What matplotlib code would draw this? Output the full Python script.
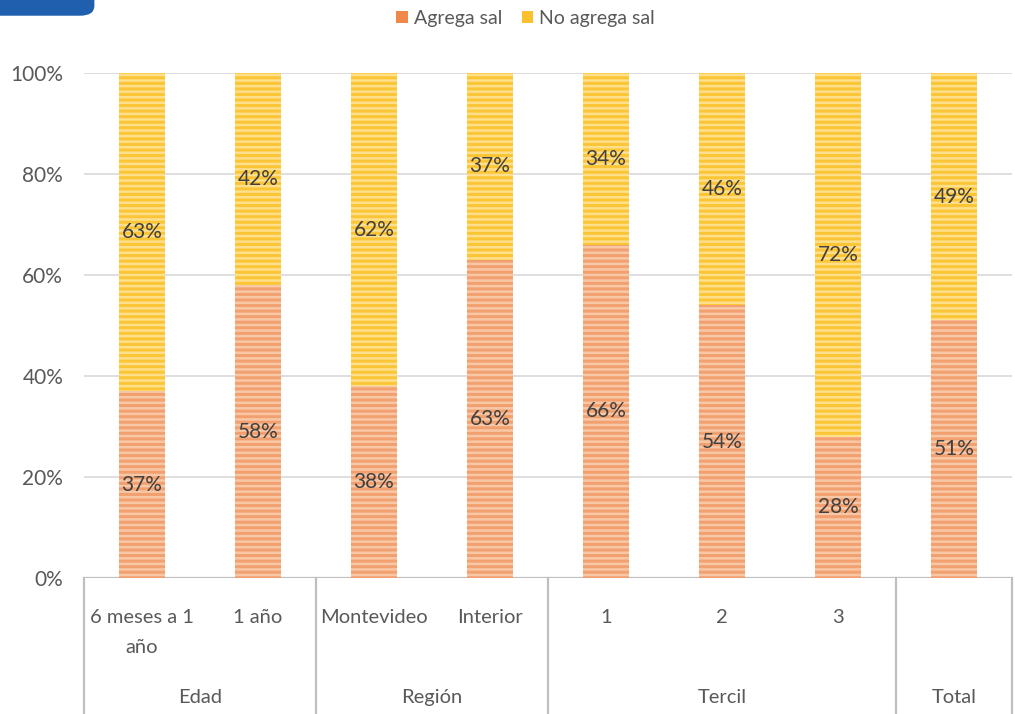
import matplotlib
matplotlib.use("Agg")
import matplotlib.pyplot as plt
from matplotlib.patches import FancyBboxPatch, Patch

# --- data ---------------------------------------------------------------------
CATEGORIES = ["6 meses a 1\naño", "1 año", "Montevideo", "Interior", "1", "2", "3", ""]
GROUPS = ["Edad", "Región", "Tercil", "Total"]
GROUP_SIZES = [2, 2, 3, 1]
AGREGA = [37, 58, 38, 63, 66, 54, 28, 51]
NO_AGREGA = [63, 42, 62, 37, 34, 46, 72, 49]
YTICKS = [0, 20, 40, 60, 80, 100]

ORANGE, ORANGE_HATCH = "#F2A070", "#F8C8A6"
YELLOW, YELLOW_HATCH = "#FBC535", "#FEDF8C"
TXT = "#595959"

plt.rcParams["font.family"] = ["Lato", "DejaVu Sans"]
plt.rcParams["hatch.linewidth"] = 1.8

fig = plt.figure(figsize=(10.15, 7.14), dpi=100)
ax = fig.add_axes([84 / 1015, 136 / 714, 928 / 1015, 505 / 714])

x = list(range(len(CATEGORIES)))
w = 0.4
ax.bar(x, AGREGA, w, color=ORANGE, edgecolor=ORANGE_HATCH, linewidth=0,
       hatch="---", zorder=3)
ax.bar(x, NO_AGREGA, w, bottom=AGREGA, color=YELLOW, edgecolor=YELLOW_HATCH,
       linewidth=0, hatch="---", zorder=3)

for xi, a, n in zip(x, AGREGA, NO_AGREGA):
    ax.text(xi, a / 2, f"{a}%", ha="center", va="center", fontsize=15,
            color="#404040", zorder=4)
    ax.text(xi, a + n / 2, f"{n}%", ha="center", va="center", fontsize=15,
            color="#404040", zorder=4)

ax.set_xlim(-0.5, len(CATEGORIES) - 0.5)
ax.set_ylim(0, 100)
ax.set_yticks(YTICKS)
ax.set_yticklabels([f"{v}%" for v in YTICKS])
ax.tick_params(axis="y", length=0, pad=15, labelsize=15, labelcolor=TXT)
ax.set_xticks([])
for s in ax.spines.values():
    s.set_visible(False)
for v in YTICKS[1:]:
    ax.axhline(v, color="#D9D9D9", linewidth=1.2, zorder=1)
ax.axhline(0, color="#BFBFBF", linewidth=1.6, zorder=2)

# multi-level category axis drawn below the plot
tr = ax.get_xaxis_transform()
for xi, lab in zip(x, CATEGORIES):
    ax.text(xi, -0.062, lab, transform=tr, ha="center", va="top", fontsize=14.5,
            color=TXT, linespacing=1.9)
seps = [-0.5]
pos = -0.5
for gs in GROUP_SIZES:
    pos += gs
    seps.append(pos)
for sx in seps:
    ax.plot([sx, sx], [0, -0.3], transform=tr, color="#BFBFBF", linewidth=1.6,
            clip_on=False)
for g, lo, hi in zip(GROUPS, seps[:-1], seps[1:]):
    ax.text((lo + hi) / 2, -0.237, g, transform=tr, ha="center", va="center",
            fontsize=14.5, color=TXT)

# legend
handles = [Patch(facecolor="#F0884A", edgecolor="none", label="Agrega sal"),
           Patch(facecolor="#FBC02D", edgecolor="none", label="No agrega sal")]
fig.legend(handles=handles, loc="center", bbox_to_anchor=(0.518, 0.974), ncol=2,
           frameon=False, fontsize=14, labelcolor=TXT, handlelength=0.6,
           handleheight=0.6, handletextpad=0.3, columnspacing=1.0)

# blue header tab cut off in the corner
fig.patches.append(FancyBboxPatch((-0.05, 0.978), 0.143, 0.06,
                                  boxstyle="round,pad=0,rounding_size=0.014",
                                  transform=fig.transFigure, facecolor="#1F5FAE",
                                  edgecolor="none"))

fig.savefig("out.png", dpi=100)
